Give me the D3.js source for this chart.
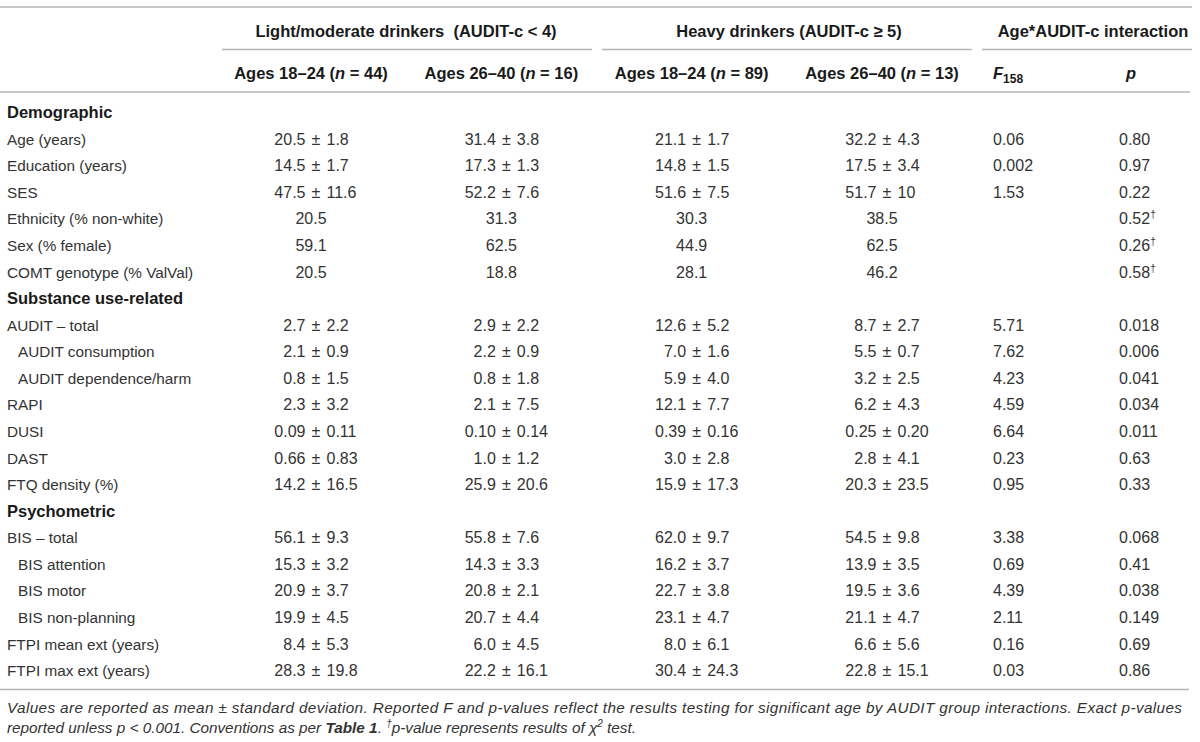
<!DOCTYPE html>
<html>
<head>
    <meta charset="utf-8">
    <title>Table 2</title>
    <script type="text/javascript" src="https://cdn.jsdelivr.net/npm/d3@7/dist/d3.min.js"></script>
    <style>
        body { margin: 0; background: #fff; }
        svg text { font-family: "Liberation Sans", Arial, Helvetica, sans-serif; font-size: 15.3px; fill: #333; }
        svg text.num { font-size: 16px; }
        svg text.bold { font-weight: bold; fill: #1a1a1a; font-size: 16.5px; }
        svg line.rule { stroke: #b5b5b5; stroke-width: 1.6; }
    </style>
</head>
<body>
<script type="text/javascript">

    // row labels, section rows are bold, sub rows are indented
    var rowLabels = [
        "Demographic", "Age (years)", "Education (years)", "SES", "Ethnicity (% non-white)",
        "Sex (% female)", "COMT genotype (% ValVal)",
        "Substance use-related", "AUDIT \u2013 total", "AUDIT consumption", "AUDIT dependence/harm",
        "RAPI", "DUSI", "DAST", "FTQ density (%)",
        "Psychometric", "BIS \u2013 total", "BIS attention", "BIS motor", "BIS non-planning",
        "FTPI mean ext (years)", "FTPI max ext (years)"
    ];
    var sectionRows = ["Demographic", "Substance use-related", "Psychometric"];
    var indentRows = ["AUDIT consumption", "AUDIT dependence/harm", "BIS attention", "BIS motor", "BIS non-planning"];

    var groupHeads = ["Light/moderate drinkers\u00a0 (AUDIT-c < 4)", "Heavy drinkers (AUDIT-c \u2265 5)", "Age*AUDIT-c interaction"];
    var colAges = ["Ages 18\u201324", "Ages 26\u201340", "Ages 18\u201324", "Ages 26\u201340"];
    var colN = [44, 16, 89, 13];

    // one entry per data row (section rows skipped)
    var lightYoung = ["20.5 ± 1.8", "14.5 ± 1.7", "47.5 ± 11.6", "20.5", "59.1", "20.5",
        "2.7 ± 2.2", "2.1 ± 0.9", "0.8 ± 1.5", "2.3 ± 3.2", "0.09 ± 0.11", "0.66 ± 0.83", "14.2 ± 16.5",
        "56.1 ± 9.3", "15.3 ± 3.2", "20.9 ± 3.7", "19.9 ± 4.5", "8.4 ± 5.3", "28.3 ± 19.8"];
    var lightOld = ["31.4 ± 3.8", "17.3 ± 1.3", "52.2 ± 7.6", "31.3", "62.5", "18.8",
        "2.9 ± 2.2", "2.2 ± 0.9", "0.8 ± 1.8", "2.1 ± 7.5", "0.10 ± 0.14", "1.0 ± 1.2", "25.9 ± 20.6",
        "55.8 ± 7.6", "14.3 ± 3.3", "20.8 ± 2.1", "20.7 ± 4.4", "6.0 ± 4.5", "22.2 ± 16.1"];
    var heavyYoung = ["21.1 ± 1.7", "14.8 ± 1.5", "51.6 ± 7.5", "30.3", "44.9", "28.1",
        "12.6 ± 5.2", "7.0 ± 1.6", "5.9 ± 4.0", "12.1 ± 7.7", "0.39 ± 0.16", "3.0 ± 2.8", "15.9 ± 17.3",
        "62.0 ± 9.7", "16.2 ± 3.7", "22.7 ± 3.8", "23.1 ± 4.7", "8.0 ± 6.1", "30.4 ± 24.3"];
    var heavyOld = ["32.2 ± 4.3", "17.5 ± 3.4", "51.7 ± 10", "38.5", "62.5", "46.2",
        "8.7 ± 2.7", "5.5 ± 0.7", "3.2 ± 2.5", "6.2 ± 4.3", "0.25 ± 0.20", "2.8 ± 4.1", "20.3 ± 23.5",
        "54.5 ± 9.8", "13.9 ± 3.5", "19.5 ± 3.6", "21.1 ± 4.7", "6.6 ± 5.6", "22.8 ± 15.1"];
    var fValues = ["0.06", "0.002", "1.53", "", "", "",
        "5.71", "7.62", "4.23", "4.59", "6.64", "0.23", "0.95",
        "3.38", "0.69", "4.39", "2.11", "0.16", "0.03"];
    var pValues = ["0.80", "0.97", "0.22", "0.52†", "0.26†", "0.58†",
        "0.018", "0.006", "0.041", "0.034", "0.011", "0.63", "0.33",
        "0.068", "0.41", "0.038", "0.149", "0.69", "0.86"];

    var width = 1200, height = 742;

    var svg = d3.select('body').append('svg')
        .attr('width', width)
        .attr('height', height);

    var rowY = d3.scaleLinear()
        .domain([0, rowLabels.length - 1])
        .range([112.7, 670.7]);
    var colX = d3.scalePoint()
        .domain([0, 1, 2, 3])
        .range([311, 882]);
    var fX = 993, pX = 1119;
    var base = 5.5; // centre -> baseline

    // rules
    var rules = [
        {x1: 0, x2: 1192, y: 7},
        {x1: 222, x2: 592, y: 49.5},
        {x1: 602, x2: 972, y: 49.5},
        {x1: 982, x2: 1192, y: 49.5},
        {x1: 0, x2: 1190, y: 92},
        {x1: 0, x2: 1189, y: 689.5}
    ];
    svg.selectAll('line.rule')
        .data(rules)
        .enter()
            .append('line')
            .attr('class', 'rule')
            .attr('x1', d => d.x1).attr('x2', d => d.x2)
            .attr('y1', d => d.y).attr('y2', d => d.y);

    // group headers
    var groupX = [406, 789, 1093];
    svg.selectAll('text.group')
        .data(groupHeads)
        .enter()
            .append('text')
            .attr('class', 'group bold')
            .attr('x', (d, i) => groupX[i])
            .attr('y', 31 + base)
            .attr('text-anchor', 'middle')
            .text(d => d);

    // age sub headers
    var sub = svg.selectAll('text.sub')
        .data(colAges)
        .enter()
            .append('text')
            .attr('class', 'sub bold')
            .attr('x', (d, i) => colX(i))
            .attr('y', 73 + base)
            .attr('text-anchor', 'middle');
    sub.append('tspan').text(d => d + ' (');
    sub.append('tspan').style('font-style', 'italic').text('n');
    sub.append('tspan').text((d, i) => ' = ' + colN[i] + ')');

    var fHead = svg.append('text').attr('class', 'bold').attr('x', fX).attr('y', 73 + base);
    fHead.append('tspan').style('font-style', 'italic').text('F');
    fHead.append('tspan').attr('dy', 4).style('font-size', '12px').text('158');
    svg.append('text').attr('class', 'bold')
        .attr('x', pX + 7).attr('y', 73 + base)
        .style('font-style', 'italic')
        .text('p');

    // row labels
    svg.append('g').selectAll('text')
        .data(rowLabels)
        .enter()
            .append('text')
            .attr('class', d => sectionRows.indexOf(d) >= 0 ? 'bold' : null)
            .attr('x', d => indentRows.indexOf(d) >= 0 ? 18 : 7)
            .attr('y', (d, i) => rowY(i) + base)
            .text(d => d);

    var dataIdx = rowLabels.map((d, i) => i).filter(i => sectionRows.indexOf(rowLabels[i]) < 0);

    // value cells, aligned on the ± sign
    var valueCols = [lightYoung, lightOld, heavyYoung, heavyOld];
    valueCols.forEach(function(col, c) {
        var g = svg.append('g');
        col.forEach(function(v, k) {
            var y = rowY(dataIdx[k]) + base;
            var cx = colX(c);
            if (v.indexOf('±') >= 0) {
                var parts = v.split(' ± ');
                var pm = cx + 5;
                g.append('text').attr('class', 'num').attr('x', pm - 10.5).attr('y', y).attr('text-anchor', 'end').text(parts[0]);
                g.append('text').attr('class', 'num').attr('x', pm).attr('y', y).attr('text-anchor', 'middle').text('±');
                g.append('text').attr('class', 'num').attr('x', pm + 10.5).attr('y', y).text(parts[1]);
            } else {
                g.append('text').attr('class', 'num').attr('x', cx).attr('y', y).attr('text-anchor', 'middle').text(v);
            }
        });
    });

    svg.append('g').selectAll('text')
        .data(fValues)
        .enter()
            .append('text')
            .attr('class', 'num')
            .attr('x', fX)
            .attr('y', (d, k) => rowY(dataIdx[k]) + base)
            .text(d => d);

    var pText = svg.append('g').selectAll('text')
        .data(pValues)
        .enter()
            .append('text')
            .attr('class', 'num')
            .attr('x', pX)
            .attr('y', (d, k) => rowY(dataIdx[k]) + base);
    pText.append('tspan').text(d => d.replace('†', ''));
    pText.filter(d => d.indexOf('†') >= 0)
        .append('tspan').attr('dy', -6).style('font-size', '10px').text('†');

    // footnote
    svg.append('text')
        .attr('x', 7).attr('y', 707 + base)
        .attr('textLength', 1175).attr('lengthAdjust', 'spacing')
        .style('font-style', 'italic')
        .text('Values are reported as mean ± standard deviation. Reported F and p-values reflect the results testing for significant age by AUDIT group interactions. Exact p-values');

    var note2 = svg.append('text')
        .attr('x', 7).attr('y', 727 + base)
        .style('font-style', 'italic');
    note2.append('tspan').text('reported unless p < 0.001. Conventions as per ');
    note2.append('tspan').style('font-weight', 'bold').text('Table 1');
    note2.append('tspan').text('. ');
    note2.append('tspan').attr('dy', -6).style('font-size', '10px').text('†');
    note2.append('tspan').attr('dy', 6).text('p-value represents results of \u03c7');
    note2.append('tspan').attr('dy', -6).style('font-size', '10px').text('2');
    note2.append('tspan').attr('dy', 6).text(' test.');

</script>
</body>
</html>
